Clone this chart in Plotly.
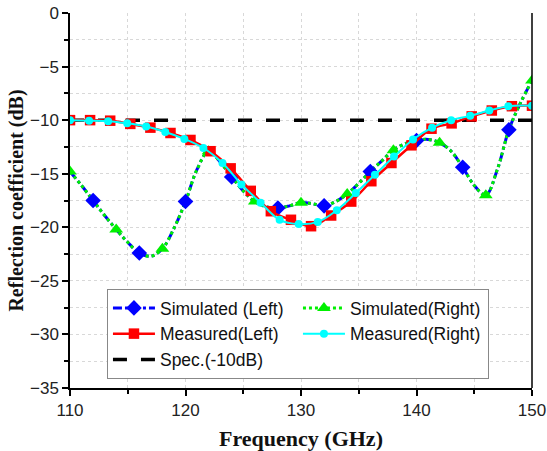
import plotly.graph_objects as go

# Simulated (1 GHz resolution), both ports
sim_freq = [110, 111, 112, 113, 114, 115, 116, 117, 118, 119, 120, 121, 122, 123, 124, 125,
            126, 127, 128, 129, 130, 131, 132, 133, 134, 135, 136, 137, 138, 139, 140, 141,
            142, 143, 144, 145, 146, 147, 148, 149, 150]
sim_left = [-14.8, -16.1, -17.5, -18.9, -20.2, -21.4, -22.4, -22.7, -22.0, -20.1, -17.6, -14.6,
            -12.9, -13.9, -15.3, -16.6, -17.6, -18.1, -18.2, -18.0, -17.7, -17.8, -18.0, -17.6,
            -16.9, -15.9, -14.8, -13.8, -12.8, -12.2, -11.9, -11.8, -12.1, -12.9, -14.4, -16.1,
            -17.0, -14.6, -10.9, -8.4, -6.3]
sim_right = list(sim_left)

# Measured (left port)
meas_l_freq = [110.0, 111.74, 113.48, 115.22, 116.96, 118.70, 120.43, 122.17, 123.91, 125.65,
               127.39, 129.13, 130.87, 132.61, 134.35, 136.09, 137.83, 139.57, 141.30, 143.04,
               144.78, 146.52, 148.26, 150.0]
meas_left = [-10.0, -10.0, -10.05, -10.35, -10.7, -11.2, -11.85, -12.9, -14.5, -16.6,
             -18.5, -19.3, -19.9, -18.9, -17.6, -15.7, -14.0, -12.35, -10.8, -10.3,
             -9.65, -9.1, -8.7, -8.65]

# Measured (right port)
meas_r_freq = [110.0, 111.65, 113.3, 114.95, 116.6, 118.25, 119.9, 121.55, 123.2, 124.85,
               126.5, 128.15, 129.8, 131.45, 133.1, 134.75, 136.4, 138.05, 139.7, 141.35,
               143.0, 144.65, 146.3, 147.95, 150.0]
meas_right = [-10.0, -10.05, -10.1, -10.3, -10.6, -11.1, -11.75, -12.6, -14.0, -16.0,
              -17.7, -19.3, -19.7, -19.5, -18.4, -16.8, -15.1, -13.4, -11.8, -10.7,
              -10.0, -9.6, -9.1, -8.7, -8.65]

spec_freq = [110, 150]
spec_val = [-10, -10]

x_ticks = [110, 120, 130, 140, 150]
y_ticks = [0, -5, -10, -15, -20, -25, -30, -35]

blue = "#0000FF"
green = "#00F000"
red = "#FF0000"
cyan = "#00FFFF"

# blue diamonds at 112,116,...,148 ; green triangles at 110,114,...,150
blue_mk_x = [f for f in sim_freq if f % 4 == 0]
blue_mk_y = [v for f, v in zip(sim_freq, sim_left) if f % 4 == 0]
green_mk_x = [f for f in sim_freq if f % 4 == 2]
green_mk_y = [v for f, v in zip(sim_freq, sim_right) if f % 4 == 2]

fig = go.Figure()

fig.add_trace(go.Scatter(x=spec_freq, y=spec_val, mode="lines", name="Spec.(-10dB)",
                         line=dict(color="black", width=3.5, dash="14px,14px"),
                         legendrank=5))

fig.add_trace(go.Scatter(x=sim_freq, y=sim_left, mode="lines", showlegend=False,
                         line=dict(color=blue, width=3, dash="dashdot", shape="spline")))
fig.add_trace(go.Scatter(x=sim_freq, y=sim_right, mode="lines", showlegend=False,
                         line=dict(color=green, width=3, dash="dot", shape="spline")))
fig.add_trace(go.Scatter(x=blue_mk_x, y=blue_mk_y, mode="markers", showlegend=False,
                         marker=dict(symbol="diamond", size=12, color=blue)))
fig.add_trace(go.Scatter(x=green_mk_x, y=green_mk_y, mode="markers", showlegend=False,
                         marker=dict(symbol="triangle-up", size=12, color=green)))

fig.add_trace(go.Scatter(x=[None], y=[None], mode="lines+markers", name="Simulated (Left)",
                         line=dict(color=blue, width=3, dash="dashdot"),
                         marker=dict(symbol="diamond", size=12, color=blue), legendrank=1))
fig.add_trace(go.Scatter(x=[None], y=[None], mode="lines+markers", name="Simulated(Right)",
                         line=dict(color=green, width=3, dash="dot"),
                         marker=dict(symbol="triangle-up", size=12, color=green), legendrank=2))

fig.add_trace(go.Scatter(x=meas_l_freq, y=meas_left, mode="lines+markers", name="Measured(Left)",
                         line=dict(color=red, width=2.5, shape="spline"),
                         marker=dict(symbol="square", size=10.5, color=red), legendrank=3))
fig.add_trace(go.Scatter(x=meas_r_freq, y=meas_right, mode="lines+markers", name="Measured(Right)",
                         line=dict(color=cyan, width=2, shape="spline"),
                         marker=dict(symbol="circle", size=8, color=cyan), legendrank=4))

fig.add_shape(type="line", xref="paper", yref="paper", x0=1, x1=1, y0=0, y1=1,
              line=dict(color="black", width=1.5))

grid_color = "#D8D8D8"
tick_font = dict(family="Liberation Sans, Arial", size=17, color="#222")
fig.update_xaxes(range=[110, 150], tickvals=x_ticks, ticks="outside", ticklen=6, tickwidth=1.5,
                 tickcolor="black", showline=True, linecolor="black", linewidth=1.5,
                 showgrid=True, gridcolor=grid_color, griddash="dot", gridwidth=1,
                 minor=dict(dtick=5, ticks="outside", ticklen=4, tickcolor="black",
                            showgrid=True, gridcolor=grid_color, griddash="dot"),
                 zeroline=False, ticklabeloverflow="allow",
                 tickfont=tick_font,
                 title=dict(text="<b>Frequency (GHz)</b>", standoff=12,
                            font=dict(family="Liberation Serif, Times New Roman", size=22, color="#111")))
fig.update_yaxes(range=[-35, 0], tickvals=y_ticks, ticks="outside", ticklen=6, tickwidth=1.5,
                 tickcolor="black", showline=True, linecolor="black", linewidth=1.5,
                 showgrid=True, gridcolor=grid_color, griddash="dot", gridwidth=1,
                 minor=dict(dtick=2.5, ticks="outside", ticklen=4, tickcolor="black",
                            showgrid=True, gridcolor=grid_color, griddash="dot"),
                 zeroline=False, ticklabeloverflow="allow",
                 tickfont=tick_font,
                 title=dict(text="<b>Reflection coefficient (dB)</b>", standoff=1,
                            font=dict(family="Liberation Serif, Times New Roman", size=20, color="#111")))

fig.update_layout(
    width=547, height=451,
    margin=dict(l=70, r=15, t=13, b=63, autoexpand=False),
    plot_bgcolor="white", paper_bgcolor="white",
    legend=dict(orientation="h", x=0.080, y=0.264, xanchor="left", yanchor="top",
                bgcolor="white", bordercolor="#888", borderwidth=1,
                font=dict(family="Liberation Sans, Arial", size=17.5, color="#111"),
                entrywidth=133, itemwidth=42, traceorder="normal", tracegroupgap=0),
)

fig.write_html("out.html")
